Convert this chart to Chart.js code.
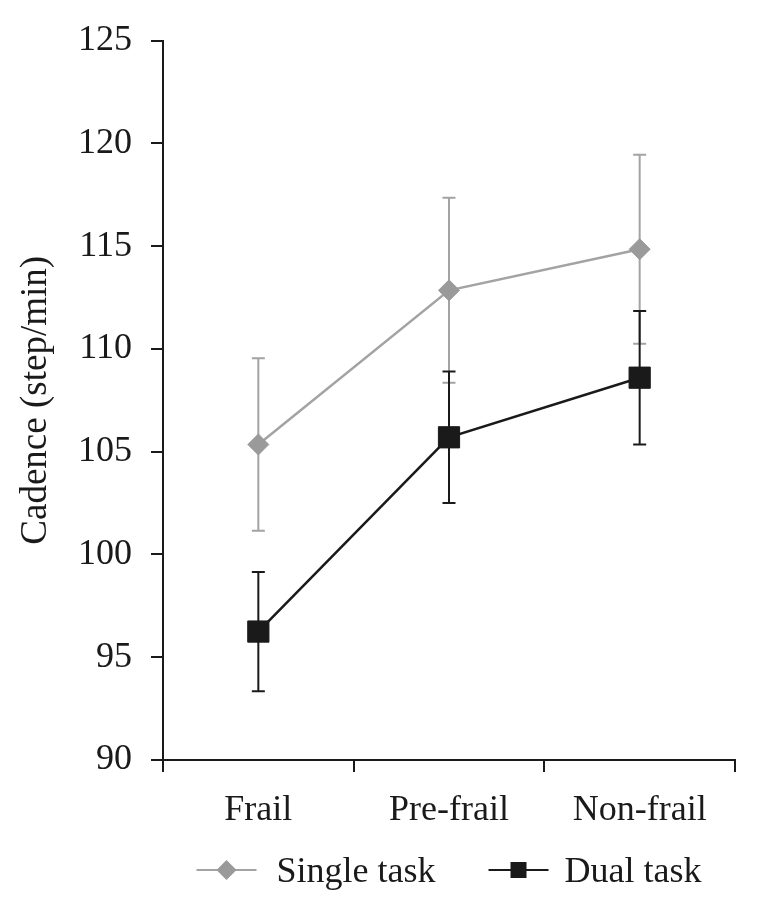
<!DOCTYPE html>
<html>
<head>
<meta charset="utf-8">
<script src="https://cdn.jsdelivr.net/npm/chart.js@4/dist/chart.umd.min.js"></script>
<style>
  html, body { margin: 0; padding: 0; background: #ffffff; }
  #wrap { width: 757px; height: 913px; }
</style>
</head>
<body>
<div id="wrap"><canvas id="c" width="757" height="913"></canvas></div>
<script>
// ---- data ----
const categories = ['Frail', 'Pre-frail', 'Non-frail'];
const seriesNames = ['Single task', 'Dual task'];
const singleMean = [105.35, 112.85, 114.85];
const singleErr  = [4.2, 4.5, 4.6];
const dualMean   = [96.25, 105.7, 108.6];
const dualErr    = [2.9, 3.2, 3.25];
const yTicks     = [90, 95, 100, 105, 110, 115, 120, 125];
const yTitle     = 'Cadence (step/min)';

const GRAY = '#a3a3a3';
const GRAY_MARK = '#9a9a9a';
const BLACK = '#1a1a1a';
const FONT = "'Liberation Serif', 'Times New Roman', serif";

const errorBars = {
  id: 'errorBars',
  beforeDatasetsDraw(chart) {
    const ctx = chart.ctx;
    const y = chart.scales.y;
    chart.data.datasets.forEach((ds, di) => {
      const meta = chart.getDatasetMeta(di);
      ctx.save();
      ctx.strokeStyle = ds.errColor;
      ctx.lineWidth = 2;
      meta.data.forEach((pt, i) => {
        const m = ds.data[i], e = ds.err[i];
        const yt = y.getPixelForValue(m + e), yb = y.getPixelForValue(m - e);
        const x = pt.x, cap = 6.5;
        ctx.beginPath();
        ctx.moveTo(x, yt); ctx.lineTo(x, yb);
        ctx.moveTo(x - cap, yt); ctx.lineTo(x + cap, yt);
        ctx.moveTo(x - cap, yb); ctx.lineTo(x + cap, yb);
        ctx.stroke();
      });
      ctx.restore();
    });
  }
};

// legend: line + marker glyph followed by the series name
const lineLegend = {
  id: 'lineLegend',
  afterDraw(chart) {
    const ctx = chart.ctx;
    const area = chart.chartArea;
    ctx.save();
    ctx.font = '36px ' + FONT;
    const glyphW = 60, textGap = [20, 16], itemGap = 53;
    const widths = chart.data.datasets.map(ds => ctx.measureText(ds.label).width);
    const total = glyphW * 2 + textGap[0] + textGap[1] + widths[0] + widths[1] + itemGap;
    let x = (area.left + area.right) / 2 - total / 2;
    const yMid = 870, yBase = 882;
    chart.data.datasets.forEach((ds, i) => {
      ctx.strokeStyle = ds.borderColor;
      ctx.lineWidth = 2.2;
      ctx.beginPath(); ctx.moveTo(x, yMid); ctx.lineTo(x + glyphW, yMid); ctx.stroke();
      const cx = x + glyphW / 2;
      ctx.fillStyle = ds.pointBackgroundColor;
      if (ds.pointStyle === 'rectRot') {
        ctx.beginPath();
        ctx.moveTo(cx, yMid - 10); ctx.lineTo(cx + 10, yMid); ctx.lineTo(cx, yMid + 10); ctx.lineTo(cx - 10, yMid);
        ctx.closePath(); ctx.fill();
      } else {
        ctx.fillRect(cx - 8, yMid - 8, 16, 16);
      }
      x += glyphW + textGap[i];
      ctx.fillStyle = '#1a1a1a';
      ctx.textBaseline = 'alphabetic';
      ctx.textAlign = 'left';
      ctx.fillText(ds.label, x, yBase);
      x += widths[i] + itemGap;
    });
    ctx.restore();
  }
};

new Chart(document.getElementById('c'), {
  type: 'line',
  data: {
    labels: categories,
    datasets: [
      {
        label: seriesNames[0], data: singleMean, err: singleErr, errColor: GRAY,
        borderColor: GRAY, borderWidth: 2.5, backgroundColor: GRAY_MARK,
        pointStyle: 'rectRot', pointRadius: 10.5, pointBorderColor: GRAY_MARK, pointBackgroundColor: GRAY_MARK,
        pointBorderWidth: 1, tension: 0, order: 2
      },
      {
        label: seriesNames[1], data: dualMean, err: dualErr, errColor: BLACK,
        borderColor: BLACK, borderWidth: 2.5, backgroundColor: BLACK,
        pointStyle: 'rect', pointRadius: 15, pointBorderColor: BLACK, pointBackgroundColor: BLACK,
        pointBorderWidth: 1, tension: 0, order: 1
      }
    ]
  },
  options: {
    responsive: false,
    animation: false,
    devicePixelRatio: 1,
    layout: { padding: { top: 40, right: 22, bottom: 73, left: 0 } },
    events: [],
    plugins: {
      tooltip: { enabled: false },
      legend: { display: false }
    },
    scales: {
      x: {
        type: 'category',
        offset: true,
        grid: { offset: true, drawOnChartArea: false, drawTicks: true, tickLength: 12, color: '#1a1a1a', lineWidth: 2 },
        border: { display: true, color: '#1a1a1a', width: 2 },
        ticks: { color: '#1a1a1a', font: { family: FONT, size: 36 }, padding: 17, maxRotation: 0 },
        afterFit: (s) => { s.height = 80; }
      },
      y: {
        min: 90, max: 125,
        afterBuildTicks: (s) => { s.ticks = yTicks.map(v => ({ value: v })); },
        grid: { drawOnChartArea: false, drawTicks: true, tickLength: 12, color: '#1a1a1a', lineWidth: 2 },
        border: { display: true, color: '#1a1a1a', width: 2 },
        ticks: { color: '#1a1a1a', font: { family: FONT, size: 36 }, padding: 19 },
        title: { display: true, text: yTitle, color: '#1a1a1a', font: { family: FONT, size: 37 }, padding: { top: 14, bottom: 0 } },
        afterFit: (s) => { s.width = 163; }
      }
    }
  },
  plugins: [errorBars, lineLegend]
});
</script>
</body>
</html>
